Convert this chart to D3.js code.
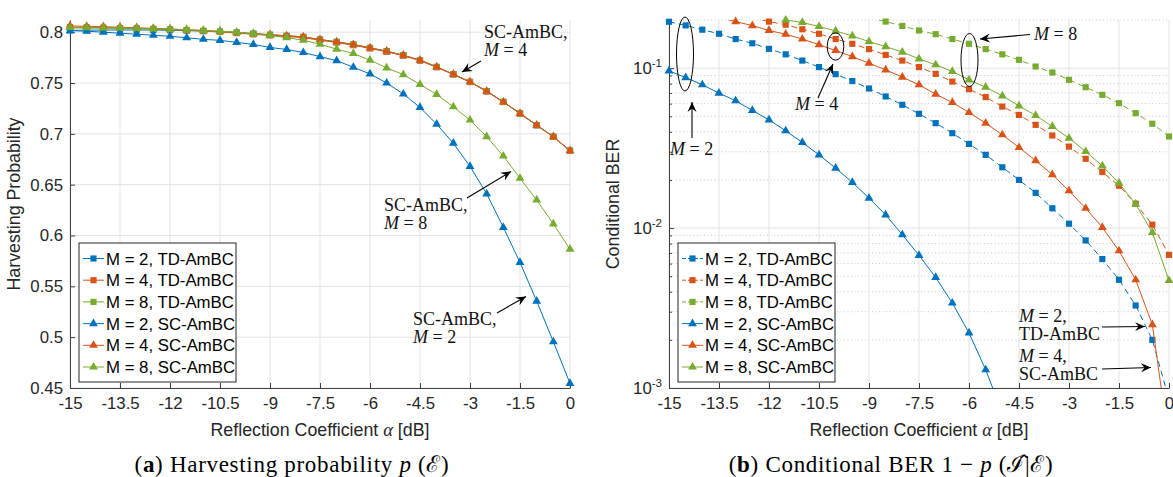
<!DOCTYPE html>
<html>
<head>
<meta charset="utf-8">
<script src="https://cdn.jsdelivr.net/npm/d3@7"></script>
<style>
  body { margin: 0; background: #fff; }
  svg text { font-family: "Liberation Sans", Arial, sans-serif; }
  .serif { font-family: "Liberation Serif", "Times New Roman", serif; }
</style>
</head>
<body>
<div id="chart"></div>
<script>
// reflection coefficient alpha [dB]
const alpha = [-15, -14.5, -14, -13.5, -13, -12.5, -12, -11.5, -11, -10.5, -10, -9.5, -9, -8.5, -8,
  -7.5, -7, -6.5, -6, -5.5, -5, -4.5, -4, -3.5, -3, -2.5, -2, -1.5, -1, -0.5, 0];
const xTicks = [-15, -13.5, -12, -10.5, -9, -7.5, -6, -4.5, -3, -1.5, 0];
const xTickLabels = ["-15", "-13.5", "-12", "-10.5", "-9", "-7.5", "-6", "-4.5", "-3", "-1.5", "0"];
const hpTicks = [0.45, 0.5, 0.55, 0.6, 0.65, 0.7, 0.75, 0.8];
const hpTickLabels = ["0.45", "0.5", "0.55", "0.6", "0.65", "0.7", "0.75", "0.8"];
const berTicks = [1e-3, 1e-2, 1e-1];
const berTickExp = ["-3", "-2", "-1"];
const legendLabels = ["M = 2, TD-AmBC", "M = 4, TD-AmBC", "M = 8, TD-AmBC",
  "M = 2, SC-AmBC", "M = 4, SC-AmBC", "M = 8, SC-AmBC"];

// (a) harvesting probability
const hpTD2 = [0.8018, 0.8020, 0.8021, 0.8022, 0.8022, 0.8021, 0.8019, 0.8016, 0.8011, 0.8004, 0.7996, 0.7985, 0.7974, 0.7964, 0.7953,
  0.7927, 0.7904, 0.7878, 0.7845, 0.7812, 0.7773, 0.7724, 0.7658, 0.7586, 0.7511, 0.7419, 0.7314, 0.7200, 0.7085, 0.6971, 0.6834];
const hpTD4 = [0.8050, 0.8048, 0.8045, 0.8041, 0.8037, 0.8032, 0.8026, 0.8019, 0.8011, 0.8002, 0.7991, 0.7979, 0.7968, 0.7957, 0.7946,
  0.7921, 0.7898, 0.7872, 0.7840, 0.7807, 0.7769, 0.7720, 0.7655, 0.7584, 0.7509, 0.7417, 0.7313, 0.7199, 0.7085, 0.6971, 0.6834];
const hpTD8 = [0.8042, 0.8041, 0.8040, 0.8038, 0.8035, 0.8032, 0.8027, 0.8021, 0.8014, 0.8006, 0.7997, 0.7986, 0.7975, 0.7965, 0.7954,
  0.7928, 0.7905, 0.7879, 0.7846, 0.7813, 0.7774, 0.7725, 0.7659, 0.7587, 0.7512, 0.7420, 0.7315, 0.7201, 0.7086, 0.6972, 0.6834];
const hpSC2 = [0.8015, 0.8010, 0.8000, 0.7990, 0.7980, 0.7970, 0.7960, 0.7945, 0.7930, 0.7920, 0.7900, 0.7880, 0.7850, 0.7830, 0.7800,
  0.7760, 0.7720, 0.7655, 0.7590, 0.7500, 0.7392, 0.7260, 0.7095, 0.6908, 0.6680, 0.6410, 0.6080, 0.5735, 0.5355, 0.4955, 0.4545];
const hpSC4 = [0.8062, 0.8058, 0.8054, 0.8049, 0.8044, 0.8038, 0.8031, 0.8024, 0.8016, 0.8007, 0.7997, 0.7986, 0.7975, 0.7965, 0.7954,
  0.7928, 0.7905, 0.7879, 0.7846, 0.7813, 0.7774, 0.7725, 0.7659, 0.7587, 0.7512, 0.7420, 0.7315, 0.7201, 0.7086, 0.6972, 0.6834];
const hpSC8 = [0.8046, 0.8045, 0.8043, 0.8041, 0.8038, 0.8034, 0.8030, 0.8025, 0.8018, 0.8010, 0.7999, 0.7985, 0.7968, 0.7947, 0.7921,
  0.7882, 0.7833, 0.7791, 0.7725, 0.7649, 0.7583, 0.7486, 0.7388, 0.7266, 0.7136, 0.6972, 0.6782, 0.6563, 0.6350, 0.6114, 0.5865];

// (b) conditional BER (null = above the plotted range)
const berTD2 = [0.195, 0.185, 0.174, 0.164, 0.152, 0.143, 0.132, 0.122, 0.1115, 0.1015, 0.0917, 0.083, 0.0746, 0.0665, 0.059,
  0.0518, 0.0453, 0.0392, 0.0336, 0.0287, 0.024, 0.020, 0.0166, 0.0133, 0.01065, 0.00837, 0.0064, 0.00475, 0.00328, 0.0020, 0.00085];
const berTD4 = [null, null, null, null, null, 0.207, 0.1955, 0.187, 0.175, 0.164, 0.152, 0.142, 0.1315, 0.121, 0.1115,
  0.1015, 0.0921, 0.0824, 0.0739, 0.0659, 0.0575, 0.051, 0.0442, 0.0379, 0.0323, 0.0271, 0.0224, 0.0184, 0.0142, 0.0105, 0.0068];
const berTD8 = [null, null, null, null, null, null, null, null, null, null, null, null, 0.207, 0.1955, 0.1836,
  0.172, 0.163, 0.152, 0.142, 0.1315, 0.122, 0.1127, 0.1023, 0.0939, 0.0845, 0.076, 0.0681, 0.0604, 0.0523, 0.0449, 0.0374];
const berSC2 = [0.0962, 0.0873, 0.0787, 0.0698, 0.0625, 0.0544, 0.0475, 0.0406, 0.0343, 0.0287, 0.0237, 0.0193, 0.0154, 0.0121, 0.00908,
  0.00675, 0.00491, 0.0034, 0.00221, 0.0013, 0.0007, null, null, null, null, null, null, null, null, null, null];
const berSC4 = [null, null, null, 0.207, 0.1955, 0.1845, 0.172, 0.163, 0.152, 0.140, 0.129, 0.118, 0.1074, 0.0976, 0.0878,
  0.0787, 0.0688, 0.061, 0.0528, 0.0453, 0.0383, 0.0319, 0.0264, 0.0216, 0.0171, 0.0133, 0.0101, 0.00721, 0.00475, 0.00249, 0.00045];
const berSC8 = [null, null, null, null, null, null, 0.213, 0.200, 0.193, 0.182, 0.171, 0.159, 0.1466, 0.1364, 0.126,
  0.1143, 0.105, 0.0953, 0.0845, 0.076, 0.0671, 0.058, 0.0506, 0.0432, 0.0365, 0.0301, 0.0245, 0.0191, 0.0141, 0.0094, 0.0047];

const colors = ["#0072BD", "#D95319", "#77AC30", "#0072BD", "#D95319", "#77AC30"];
const markers = ["square", "square", "square", "triangle", "triangle", "triangle"];

const svg = d3.select("#chart").append("svg")
  .attr("width", 1173).attr("height", 477);

const defs = svg.append("defs");
defs.append("marker")
  .attr("id", "arrow")
  .attr("viewBox", "-10 -5 12 10")
  .attr("refX", 0).attr("refY", 0)
  .attr("markerWidth", 12).attr("markerHeight", 10)
  .attr("markerUnits", "userSpaceOnUse")
  .attr("orient", "auto")
  .append("path")
  .attr("d", "M0,0 L-10,-4.5 L-6.5,0 L-10,4.5 Z")
  .attr("fill", "#000");

const symSquare = d3.symbol(d3.symbolSquare, 38);
const symTriangle = d3.symbol(d3.symbolTriangle, 34);

function drawPanel(cfg) {
  const g = svg.append("g");
  const x = d3.scaleLinear().domain([-15, 0]).range([cfg.left, cfg.left + 500]);
  const y = cfg.y;
  const top = 20, bottom = 388;

  // grid
  if (cfg.minor) {
    g.append("g").selectAll("line").data(cfg.minor).join("line")
      .attr("x1", cfg.left).attr("x2", cfg.left + 500)
      .attr("y1", d => y(d)).attr("y2", d => y(d))
      .attr("stroke", "#c8c8c8").attr("stroke-width", 1)
      .attr("stroke-dasharray", "1,2.5");
  }
  g.append("g").selectAll("line").data(xTicks).join("line")
    .attr("x1", d => x(d)).attr("x2", d => x(d))
    .attr("y1", top).attr("y2", bottom)
    .attr("stroke", "#e3e3e3");
  g.append("g").selectAll("line").data(cfg.yTicks).join("line")
    .attr("x1", cfg.left).attr("x2", cfg.left + 500)
    .attr("y1", d => y(d)).attr("y2", d => y(d))
    .attr("stroke", "#e3e3e3");

  // axes
  const xAxis = g.append("g")
    .attr("transform", `translate(0,${bottom})`)
    .call(d3.axisBottom(x).tickValues(xTicks)
      .tickFormat((d, i) => xTickLabels[i])
      .tickSizeInner(-5).tickSizeOuter(0).tickPadding(9));
  const yAxis = g.append("g")
    .attr("transform", `translate(${cfg.left},0)`)
    .call(d3.axisLeft(y).tickValues(cfg.yTicks)
      .tickFormat((d, i) => cfg.yLabels ? cfg.yLabels[i] : "")
      .tickSizeInner(-5).tickSizeOuter(0).tickPadding(7));
  if (cfg.minor) {
    g.append("g")
      .attr("transform", `translate(${cfg.left},0)`)
      .call(d3.axisLeft(y).tickValues(cfg.minor).tickFormat("")
        .tickSizeInner(-3).tickSizeOuter(0))
      .call(a => a.select(".domain").remove())
      .selectAll("line").attr("stroke", "#404040");
  }
  [xAxis, yAxis].forEach(a => {
    a.select(".domain").attr("stroke", "#404040");
    a.selectAll(".tick line").attr("stroke", "#404040");
    a.selectAll("text").attr("fill", "#262626").style("font-size", "16.8px");
  });
  if (cfg.exps) {
    yAxis.selectAll(".tick text").each(function (d, i) {
      const t = d3.select(this).text("");
      t.append("tspan").text("10");
      t.append("tspan").attr("dy", -7).style("font-size", "11.5px").text(cfg.exps[i]);
    });
  }

  // axis titles
  g.append("text")
    .attr("transform", `translate(${cfg.left - 50},${(top + bottom) / 2}) rotate(-90)`)
    .attr("text-anchor", "middle").attr("fill", "#262626")
    .style("font-size", "17.8px").text(cfg.yTitle);
  const xt = g.append("text")
    .attr("x", cfg.left + 250).attr("y", 436)
    .attr("text-anchor", "middle").attr("fill", "#262626")
    .style("font-size", "17.8px");
  xt.append("tspan").text("Reflection Coefficient ");
  xt.append("tspan").attr("class", "serif").style("font-style", "italic").style("font-size", "18.5px").text("α");
  xt.append("tspan").text(" [dB]");

  // curves
  const clipId = "clip" + cfg.left;
  defs.append("clipPath").attr("id", clipId)
    .append("rect").attr("x", cfg.left).attr("y", top).attr("width", 505).attr("height", bottom - top);
  const line = d3.line()
    .defined(d => d[1] !== null)
    .x(d => x(d[0])).y(d => y(d[1]));
  const yLo = Math.min(...y.domain()), yHi = Math.max(...y.domain());

  cfg.series.forEach((vals, k) => {
    const pts = alpha.map((a, i) => [a, vals[i]]);
    g.append("path")
      .datum(pts)
      .attr("clip-path", `url(#${clipId})`)
      .attr("d", line)
      .attr("fill", "none")
      .attr("stroke", colors[k])
      .attr("stroke-width", 1)
      .attr("stroke-dasharray", cfg.dashed && k < 3 ? "6,4" : null);
    g.append("g").selectAll("path")
      .data(pts.filter(p => p[1] !== null && p[1] >= yLo * 0.999 && p[1] <= yHi * 1.001))
      .join("path")
      .attr("transform", p => `translate(${x(p[0])},${y(p[1])})`)
      .attr("d", markers[k] === "square" ? symSquare : symTriangle)
      .attr("fill", colors[k]);
  });

  // legend
  const lg = g.append("g").attr("transform", `translate(${cfg.left + 9},243)`);
  lg.append("rect").attr("width", 157).attr("height", 139)
    .attr("fill", "#fff").attr("stroke", "#262626").attr("stroke-width", 1);
  legendLabels.forEach((lab, k) => {
    const yy = 15.5 + k * 21.7;
    lg.append("line").attr("x1", 4).attr("x2", 25).attr("y1", yy).attr("y2", yy)
      .attr("stroke", colors[k]).attr("stroke-width", 1)
      .attr("stroke-dasharray", cfg.dashed && k < 3 ? "4,2" : null);
    lg.append("path").attr("transform", `translate(14.5,${yy})`)
      .attr("d", markers[k] === "square" ? symSquare : symTriangle)
      .attr("fill", colors[k]);
    lg.append("text").attr("x", 27).attr("y", yy + 6)
      .attr("fill", "#000").style("font-size", "16.8px").text(lab);
  });

  return { g, x, y };
}

// ---- panel (a)
const yHP = d3.scaleLinear().domain([0.45, 0.812]).range([388, 20]);
const pa = drawPanel({
  left: 70, y: yHP, yTicks: hpTicks, yLabels: hpTickLabels,
  yTitle: "Harvesting Probability",
  series: [hpTD2, hpTD4, hpTD8, hpSC2, hpSC4, hpSC8], dashed: false
});

// ---- panel (b)
const yBER = d3.scaleLog().domain([1e-3, 0.2]).range([388, 20]);
const berMinor = [];
[1e-3, 1e-2, 1e-1].forEach(dec => {
  [2, 3, 4, 5, 6, 7, 8, 9].forEach(m => { if (m * dec <= 0.2 + 1e-9) berMinor.push(m * dec); });
});
const pb = drawPanel({
  left: 669, y: yBER, yTicks: berTicks, exps: berTickExp, minor: berMinor,
  yTitle: "Conditional BER",
  series: [berTD2, berTD4, berTD8, berSC2, berSC4, berSC8], dashed: true
});

// ---- annotations
function note(lines, xPos, yPos) {
  lines.forEach((ln, i) => {
    const t = svg.append("text").attr("class", "serif")
      .attr("x", xPos).attr("y", yPos + i * 18)
      .attr("fill", "#111").style("font-size", "18px");
    ln.forEach(part => {
      t.append("tspan").style("font-style", part.it ? "italic" : null).text(part.s);
    });
  });
}
function arrow(x1, y1, x2, y2) {
  svg.append("line").attr("x1", x1).attr("y1", y1).attr("x2", x2).attr("y2", y2)
    .attr("stroke", "#000").attr("stroke-width", 1.1)
    .attr("marker-end", "url(#arrow)");
}
const Meq = n => [{ s: "M", it: true }, { s: " = " + n }];

note([[{ s: "SC-AmBC," }], Meq(4)], 484, 38);
arrow(481, 61, 462, 72);
note([[{ s: "SC-AmBC," }], Meq(8)], 384, 211);
arrow(467, 198, 511, 171.5);
note([[{ s: "SC-AmBC," }], Meq(2)], 413, 325);
arrow(497, 313, 526, 296.5);

const ell = (cx, cy, rx, ry) => svg.append("ellipse")
  .attr("cx", cx).attr("cy", cy).attr("rx", rx).attr("ry", ry)
  .attr("fill", "none").attr("stroke", "#000").attr("stroke-width", 1);
ell(685, 54, 8.5, 37);
arrow(692, 138, 692, 102);
note([Meq(2)], 670, 155);
ell(835.5, 46.5, 8.3, 13.7);
arrow(818, 98, 833, 64);
note([Meq(4)], 795, 110);
ell(969.5, 60, 8.5, 26.5);
arrow(1030, 34.5, 980, 39);
note([Meq(8)], 1034, 40);
note([[{ s: "M", it: true }, { s: " = 2," }], [{ s: "TD-AmBC" }]], 1019, 322);
arrow(1102, 327, 1145, 326.5);
note([[{ s: "M", it: true }, { s: " = 4," }], [{ s: "SC-AmBC" }]], 1019, 362);
arrow(1102, 369, 1151, 367.5);

// ---- captions
function caption(xc, letter, parts) {
  const t = svg.append("text").attr("class", "serif")
    .attr("x", xc).attr("y", 472).attr("text-anchor", "middle")
    .attr("fill", "#000").style("font-size", "23px").style("letter-spacing", "0.7px");
  t.append("tspan").text("(");
  t.append("tspan").style("font-weight", "bold").text(letter);
  t.append("tspan").text(") ");
  parts.forEach(p => t.append("tspan").style("font-style", p.it ? "italic" : null).text(p.s));
}
caption(292, "a", [{ s: "Harvesting probability " }, { s: "p", it: true }, { s: " (ℰ)" }]);
caption(891, "b", [{ s: "Conditional BER 1 − " }, { s: "p", it: true }, { s: " (ℐ̂|ℰ)" }]);
</script>
</body>
</html>
